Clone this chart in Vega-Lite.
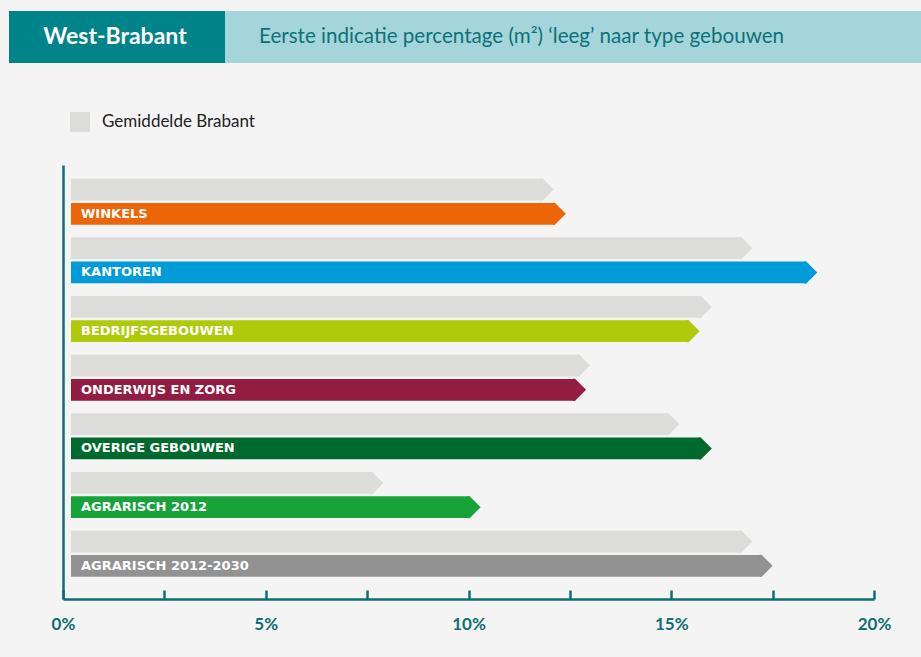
{
  "$schema": "https://vega.github.io/schema/vega-lite/v6.json",
  "background": "#f4f4f4",
  "padding": {"left": 9, "top": 11, "right": 0, "bottom": 30},
  "config": {
    "view": {"stroke": null},
    "font": "Lato",
    "concat": {"spacing": 0}
  },
  "vconcat": [
    {
      "hconcat": [
        {
          "width": 216,
          "height": 52,
          "view": {"fill": "#008489", "stroke": null},
          "data": {"values": [{"t": "West-Brabant"}]},
          "mark": {"type": "text", "font": "Lato", "fontWeight": "bold", "fontSize": 23, "color": "#ffffff", "align": "center", "baseline": "middle", "dx": -2},
          "encoding": {"text": {"field": "t"}}
        },
        {
          "width": 696,
          "height": 52,
          "view": {"fill": "#a3d5da", "stroke": null},
          "data": {"values": [{"t": "Eerste indicatie percentage (m²) ‘leeg’ naar type gebouwen"}]},
          "mark": {"type": "text", "font": "Lato", "fontWeight": "normal", "fontSize": 20.6, "color": "#0d7179", "align": "left", "baseline": "middle", "dx": -314},
          "encoding": {"text": {"field": "t"}}
        }
      ],
      "spacing": 0
    },
    {
      "hconcat": [
        {
          "width": 42,
          "height": 10,
          "data": {"values": []},
          "mark": {"type": "point", "opacity": 0}
        },
        {
          "width": 811,
          "height": 434,
          "data": {
            "values": [
              {"type": "WINKELS", "reeks": "Gemiddelde Brabant", "pct": 12.1},
              {"type": "WINKELS", "reeks": "West-Brabant", "pct": 12.4},
              {"type": "KANTOREN", "reeks": "Gemiddelde Brabant", "pct": 17.0},
              {"type": "KANTOREN", "reeks": "West-Brabant", "pct": 18.6},
              {"type": "BEDRIJFSGEBOUWEN", "reeks": "Gemiddelde Brabant", "pct": 16.0},
              {"type": "BEDRIJFSGEBOUWEN", "reeks": "West-Brabant", "pct": 15.7},
              {"type": "ONDERWIJS EN ZORG", "reeks": "Gemiddelde Brabant", "pct": 13.0},
              {"type": "ONDERWIJS EN ZORG", "reeks": "West-Brabant", "pct": 12.9},
              {"type": "OVERIGE GEBOUWEN", "reeks": "Gemiddelde Brabant", "pct": 15.2},
              {"type": "OVERIGE GEBOUWEN", "reeks": "West-Brabant", "pct": 16.0},
              {"type": "AGRARISCH 2012", "reeks": "Gemiddelde Brabant", "pct": 7.9},
              {"type": "AGRARISCH 2012", "reeks": "West-Brabant", "pct": 10.3},
              {"type": "AGRARISCH 2012-2030", "reeks": "Gemiddelde Brabant", "pct": 17.0},
              {"type": "AGRARISCH 2012-2030", "reeks": "West-Brabant", "pct": 17.5}
            ]
          },
          "encoding": {
            "y": {
              "field": "type",
              "type": "nominal",
              "sort": null,
              "scale": {"paddingInner": 0.216, "paddingOuter": 0.307, "align": 0.38},
              "axis": {"title": null, "labels": false, "ticks": false, "domain": true, "domainColor": "#0f6e76", "domainWidth": 2.5, "grid": false}
            },
            "yOffset": {
              "field": "reeks",
              "type": "nominal",
              "scale": {"domain": ["Gemiddelde Brabant", "West-Brabant"], "paddingInner": 0.103}
            },
            "x": {
              "field": "pct",
              "type": "quantitative",
              "scale": {"domain": [0, 20], "nice": false},
              "axis": {
                "title": null,
                "grid": false,
                "values": [0, 2.5, 5, 7.5, 10, 12.5, 15, 17.5, 20],
                "labelExpr": "datum.value % 5 === 0 ? datum.value + '%' : ''",
                "domainColor": "#0f6e76",
                "domainWidth": 2.5,
                "tickColor": "#0f6e76",
                "tickWidth": 2.5,
                "tickSize": -9,
                "labelFont": "Lato",
                "labelFontWeight": "bold",
                "labelFontSize": 17,
                "labelColor": "#0f6e76",
                "labelPadding": 26,
                "labelFlush": false
              }
            }
          },
          "layer": [
            {
              "transform": [{"filter": "datum.reeks === 'Gemiddelde Brabant'"}],
              "mark": {"type": "bar", "xOffset": -11, "x2Offset": 8},
              "encoding": {
                "x2": {"datum": 0},
                "color": {
                  "field": "reeks",
                  "type": "nominal",
                  "scale": {"domain": ["Gemiddelde Brabant"], "range": ["#dcdcda"]},
                  "legend": {
                    "title": null,
                    "orient": "top",
                    "symbolType": "square",
                    "symbolSize": 400,
                    "symbolStrokeWidth": 0,
                    "labelFont": "Lato",
                    "labelFontSize": 17,
                    "labelColor": "#222222",
                    "labelOffset": 12,
                    "padding": 7,
                    "offset": 26
                  }
                }
              }
            },
            {
              "transform": [{"filter": "datum.reeks === 'Gemiddelde Brabant'"}],
              "mark": {"type": "point", "shape": "M-1.2,-1L-1,-1L0,0L-1,1L-1.2,1Z", "filled": true, "size": 484, "strokeWidth": 0, "opacity": 1, "color": "#dcdcda"}
            },
            {
              "transform": [{"filter": "datum.reeks === 'West-Brabant'"}],
              "mark": {"type": "bar", "xOffset": -11, "x2Offset": 8},
              "encoding": {
                "x2": {"datum": 0},
                "color": {
                  "field": "type",
                  "type": "nominal",
                  "scale": {
                    "domain": ["WINKELS", "KANTOREN", "BEDRIJFSGEBOUWEN", "ONDERWIJS EN ZORG", "OVERIGE GEBOUWEN", "AGRARISCH 2012", "AGRARISCH 2012-2030"],
                    "range": ["#ec6608", "#009bd8", "#afca0b", "#931c42", "#006a2e", "#17a33a", "#929292"]
                  },
                  "legend": null
                }
              }
            },
            {
              "transform": [{"filter": "datum.reeks === 'West-Brabant'"}],
              "mark": {"type": "point", "shape": "M-1.2,-1L-1,-1L0,0L-1,1L-1.2,1Z", "filled": true, "size": 484, "strokeWidth": 0, "opacity": 1},
              "encoding": {
                "color": {
                  "field": "type",
                  "type": "nominal",
                  "scale": {
                    "domain": ["WINKELS", "KANTOREN", "BEDRIJFSGEBOUWEN", "ONDERWIJS EN ZORG", "OVERIGE GEBOUWEN", "AGRARISCH 2012", "AGRARISCH 2012-2030"],
                    "range": ["#ec6608", "#009bd8", "#afca0b", "#931c42", "#006a2e", "#17a33a", "#929292"]
                  },
                  "legend": null
                }
              }
            },
            {
              "transform": [{"filter": "datum.reeks === 'West-Brabant'"}],
              "mark": {"type": "text", "align": "left", "baseline": "middle", "dx": 18, "font": "DejaVu Sans", "fontWeight": "bold", "fontSize": 13, "color": "#ffffff"},
              "encoding": {
                "x": {"datum": 0},
                "text": {"field": "type"}
              }
            }
          ],
          "resolve": {"scale": {"color": "independent"}, "legend": {"color": "independent"}}
        }
      ],
      "spacing": 0
    }
  ],
  "spacing": 42
}
